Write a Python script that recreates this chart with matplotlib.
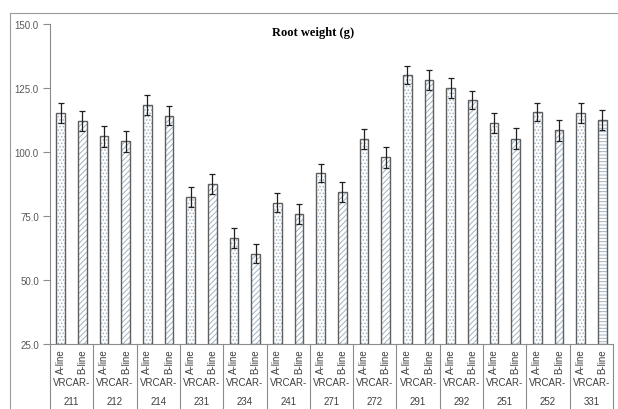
import numpy as np
import matplotlib.pyplot as plt
from matplotlib.lines import Line2D

# root weight of A- and B-lines per VRCAR entry
groups = ['211', '212', '214', '231', '234', '241', '271',
          '272', '291', '292', '251', '252', '331']
lines = ['A-line', 'B-line']
a_line = [115.2, 106.1, 118.2, 82.4, 66.3, 80.2, 91.8,
          105.1, 130.0, 124.9, 111.2, 115.5, 115.1]
b_line = [112.0, 104.2, 114.1, 87.4, 60.2, 75.8, 84.4,
          97.9, 128.1, 120.2, 105.2, 108.4, 112.4]
a_err = [3.8, 4.1, 3.9, 3.8, 3.9, 3.7, 3.5, 4.0, 3.6, 3.9, 3.9, 3.5, 3.9]
b_err = [3.9, 4.1, 3.7, 3.9, 3.7, 3.9, 3.9, 4.0, 3.9, 3.5, 4.0, 4.0, 3.9]
yticks = [25, 50, 75, 100, 125, 150]

plt.rcParams['font.family'] = ['Liberation Sans', 'DejaVu Sans']
plt.rcParams['hatch.linewidth'] = 0.7

fig = plt.figure(figsize=(6.18, 4.10), dpi=100)
ax = fig.add_axes([50 / 618, 65 / 410, 563 / 618, 320 / 410])

vals = np.ravel(np.column_stack([a_line, b_line]))
errs = np.ravel(np.column_stack([a_err, b_err]))
x = np.arange(len(vals))
hatches = ['.....', '//////'] * len(groups)
hatches[-1] = '-----'

for xi, v, h in zip(x, vals, hatches):
    ax.bar(xi, v - 25, bottom=25, width=0.4, color='white',
           edgecolor='#9fb3c6', hatch=h, linewidth=0)
ax.bar(x, vals - 25, bottom=25, width=0.4, fill=False,
       edgecolor='#5f5f5f', linewidth=1.0)
ax.errorbar(x, vals, yerr=errs, fmt='none', ecolor='#202020',
            elinewidth=0.9, capsize=2.5, capthick=0.9)

ax.set_xlim(-0.5, len(vals) - 0.5)
ax.set_ylim(25, 150)
ax.set_yticks(yticks)
ax.set_yticklabels([f'{t:.1f}' for t in yticks], fontsize=7,
                   color='#595959')
ax.tick_params(axis='y', length=5, color='#8c8c8c', width=0.8, pad=3)
ax.set_xticks([])
for s in ['top', 'right']:
    ax.spines[s].set_visible(False)
for s in ['left', 'bottom']:
    ax.spines[s].set_color('#8c8c8c')
    ax.spines[s].set_linewidth(0.8)

# two-level category axis
tr = ax.get_xaxis_transform()
for xi, lab in zip(x, lines * len(groups)):
    ax.text(xi, -17 / 320, lab, transform=tr, rotation=90, ha='center',
            va='center', fontsize=7, color='#404040')
for i, g in enumerate(groups):
    ax.text(2 * i + 0.5, -38 / 320, 'VRCAR-', transform=tr, ha='center',
            va='center', fontsize=7, color='#404040')
    ax.text(2 * i + 0.5, -57 / 320, g, transform=tr, ha='center',
            va='center', fontsize=7, color='#404040')
for b in np.arange(0, len(vals) + 1, 2) - 0.5:
    ax.plot([b, b], [0, -70 / 320], transform=tr, color='#8c8c8c',
            linewidth=0.8, clip_on=False)

fig.text(313 / 618, 1 - 33 / 410, 'Root weight (g)', ha='center',
         va='center', fontsize=9, fontweight='bold',
         family=['Liberation Serif', 'DejaVu Serif'])

# chart frame
fig.add_artist(Line2D([10 / 618, 1], [1 - 14 / 410] * 2, color='#9a9a9a',
                      linewidth=0.8))
fig.add_artist(Line2D([10 / 618] * 2, [0, 1 - 14 / 410], color='#9a9a9a',
                      linewidth=0.8))

fig.savefig('out.png', dpi=100)
